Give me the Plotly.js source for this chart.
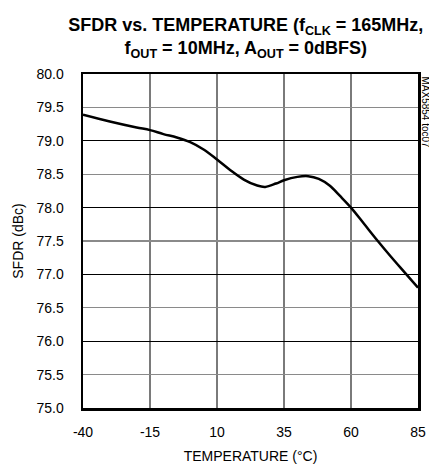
<!DOCTYPE html>
<html>
<head>
<meta charset="utf-8">
<script src="https://cdn.plot.ly/plotly-3.0.1.min.js"></script>
<style>html,body{margin:0;padding:0;background:#fff;}#chart{width:429px;height:467px;}</style>
</head>
<body>
<div id="chart"></div>
<script>
const temperature = [-40, -30, -20, -15, -10, -5, 0, 5, 10, 15, 20, 25, 28, 32, 35, 40, 44, 48, 52, 56, 60, 65, 70, 75, 80, 85];
const sfdr = [79.39, 79.29, 79.2, 79.16, 79.1, 79.05, 78.98, 78.87, 78.72, 78.56, 78.42, 78.33, 78.31, 78.36, 78.41, 78.46, 78.47, 78.43, 78.33, 78.17, 78.0, 77.75, 77.5, 77.26, 77.03, 76.8];
const xTicks = [-40, -15, 10, 35, 60, 85];
const yTicks = [75.0, 75.5, 76.0, 76.5, 77.0, 77.5, 78.0, 78.5, 79.0, 79.5, 80.0];
const yMajor = [75, 76, 77, 78, 79, 80];

const font = "Liberation Sans, Arial, sans-serif";
const traces = [
  {x: temperature, y: sfdr, type: 'scatter', mode: 'lines',
   line: {color: '#000', width: 2.5, shape: 'spline', smoothing: 1}, showlegend: false, hoverinfo: 'skip'},
  {x: [temperature[0]], y: [yMajor[0]], yaxis: 'y2', type: 'scatter', mode: 'markers',
   marker: {opacity: 0}, showlegend: false, hoverinfo: 'skip'}
];
const layout = {
  width: 429, height: 467,
  margin: {l: 83, r: 11, t: 74, b: 59},
  paper_bgcolor: '#fff', plot_bgcolor: 'rgba(0,0,0,0)',
  font: {family: font, color: '#000', size: 14},
  title: {text: '<b>SFDR vs. TEMPERATURE (f<sub>CLK</sub> = 165MHz,<br>f<sub>OUT</sub> = 10MHz, A<sub>OUT</sub> = 0dBFS)</b>',
          font: {family: font, size: 18, color: '#000'}, x: 0.573, xanchor: 'center', y: 0.934, yanchor: 'middle'},
  xaxis: {range: [-40, 85], tickvals: xTicks, ticktext: xTicks.map(String), showgrid: true, gridcolor: '#7a7a7a', gridwidth: 1.2,
          showline: true, linecolor: '#000', linewidth: 2.5, mirror: true, ticks: '', zeroline: false,
          ticklabelstandoff: 10, tickfont: {size: 14},
          title: {text: 'TEMPERATURE (°C)', font: {size: 14}, standoff: 12}},
  yaxis: {range: [75, 80], tickvals: yTicks, ticktext: yTicks.map(v => v.toFixed(1)), showgrid: true, gridcolor: '#8a8a8a', gridwidth: 1.2,
          showline: true, linecolor: '#000', linewidth: 2.5, mirror: true, ticks: '', zeroline: false,
          ticklabelstandoff: 14, tickfont: {size: 14},
          title: {text: 'SFDR (dBc)', font: {size: 14}, standoff: 10}},
  yaxis2: {range: [75, 80], overlaying: 'y', tickvals: yMajor, showticklabels: false, showgrid: true, gridcolor: '#000', gridwidth: 1.2,
           zeroline: false, showline: false, ticks: ''},
  annotations: [{text: 'MAX5854 toc07', xref: 'paper', yref: 'paper', x: 1.0, y: 1.0, xanchor: 'left', yanchor: 'top',
                 xshift: 0, textangle: 90, showarrow: false, font: {size: 10, color: '#000'}}]
};
Plotly.newPlot('chart', traces, layout, {displayModeBar: false, staticPlot: true});
</script>
</body>
</html>
